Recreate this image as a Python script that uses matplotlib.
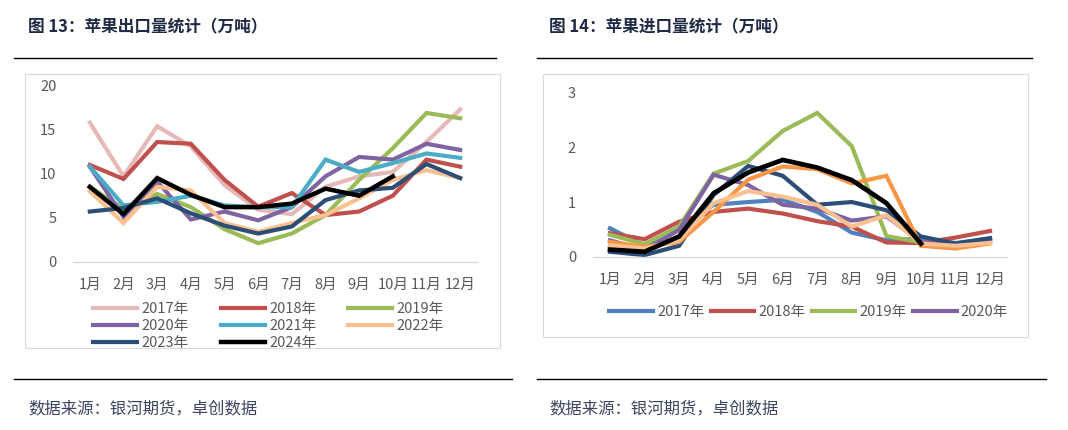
import matplotlib
matplotlib.use("Agg")
import matplotlib.pyplot as plt
from matplotlib.lines import Line2D

plt.rcParams['font.family'] = ['Noto Sans CJK SC', 'DejaVu Sans']

months = ['1月', '2月', '3月', '4月', '5月', '6月', '7月', '8月', '9月', '10月', '11月', '12月']

# 图13 出口量 (万吨)
export_2017 = [15.8, 9.7, 15.4, 13.1, 8.7, 5.9, 5.4, 8.5, 9.7, 10.2, 13.6, 17.3]
export_2018 = [11.0, 9.4, 13.6, 13.4, 9.3, 6.25, 7.8, 5.3, 5.7, 7.5, 11.6, 10.8]
export_2019 = [8.5, 6.0, 7.7, 6.2, 3.7, 2.1, 3.2, 5.3, 9.3, 12.9, 16.9, 16.3]
export_2020 = [10.8, 5.1, 9.1, 4.8, 5.7, 4.7, 6.2, 9.7, 11.9, 11.6, 13.4, 12.7]
export_2021 = [10.8, 6.4, 6.8, 7.5, 6.4, 6.2, 6.2, 11.6, 10.2, 11.2, 12.3, 11.8]
export_2022 = [8.0, 4.4, 8.5, 8.1, 4.4, 3.4, 4.4, 5.3, 7.2, 9.3, 10.4, 9.5]
export_2023 = [5.7, 6.1, 7.2, 5.5, 4.1, 3.2, 4.0, 7.0, 8.1, 8.4, 11.1, 9.5]
export_2024 = [8.5, 5.4, 9.5, 7.6, 6.2, 6.2, 6.6, 8.3, 7.5, 9.7]

# 图14 进口量 (万吨)
import_2017 = [0.52, 0.2, 0.5, 0.95, 1.0, 1.04, 0.82, 0.44, 0.3, 0.33, 0.25, 0.33]
import_2018 = [0.43, 0.32, 0.64, 0.82, 0.88, 0.79, 0.65, 0.55, 0.26, 0.25, 0.35, 0.47]
import_2019 = [0.4, 0.23, 0.55, 1.52, 1.75, 2.3, 2.63, 2.02, 0.38, 0.26, 0.22, 0.28]
import_2020 = [0.3, 0.12, 0.49, 1.5, 1.31, 0.95, 0.88, 0.66, 0.74, 0.27, 0.21, 0.3]
import_2021 = [0.09, 0.03, 0.2, 1.13, 1.66, 1.48, 0.95, 1.0, 0.85, 0.37, 0.24, 0.34]
import_2022 = [0.27, 0.18, 0.27, 0.82, 1.41, 1.65, 1.6, 1.34, 1.48, 0.2, 0.15, 0.24]
import_2023 = [0.21, 0.15, 0.3, 0.98, 1.2, 1.1, 0.95, 0.55, 0.76, 0.24, 0.2, 0.25]
import_2024 = [0.13, 0.09, 0.37, 1.16, 1.54, 1.77, 1.63, 1.4, 0.98, 0.24]

export_series = [
    ('2017年', export_2017, '#E6B9B8'),
    ('2018年', export_2018, '#C0504D'),
    ('2019年', export_2019, '#9BBB59'),
    ('2020年', export_2020, '#8064A2'),
    ('2021年', export_2021, '#4BACC6'),
    ('2022年', export_2022, '#FAC090'),
    ('2023年', export_2023, '#2C4D75'),
    ('2024年', export_2024, '#000000'),
]
import_series = [
    ('2017年', import_2017, '#4F81BD'),
    ('2018年', import_2018, '#C0504D'),
    ('2019年', import_2019, '#9BBB59'),
    ('2020年', import_2020, '#8064A2'),
    ('2021年', import_2021, '#2C4D75'),
    ('2022年', import_2022, '#F79646'),
    ('2023年', import_2023, '#FAC090'),
    ('2024年', import_2024, '#000000'),
]

fig = plt.figure(figsize=(10.68, 4.30), dpi=100)
W, H = 1068.0, 430.0

def fx(px):
    return px / W

def fy(py):
    return 1 - py / H

title_color = '#1F2A44'
src_color = '#3A4660'

# titles, rules and sources
fig.text(fx(28), fy(27), '图 13：苹果出口量统计（万吨）', fontsize=12, fontweight='bold',
         color=title_color, va='center', ha='left')
fig.text(fx(549), fy(27), '图 14：苹果进口量统计（万吨）', fontsize=12, fontweight='bold',
         color=title_color, va='center', ha='left')
for x0, x1 in [(14, 496), (537, 1032)]:
    fig.add_artist(Line2D([fx(x0), fx(x1)], [fy(58), fy(58)], color='black', lw=1.0))
for x0, x1 in [(14, 512), (537, 1046)]:
    fig.add_artist(Line2D([fx(x0), fx(x1)], [fy(379), fy(379)], color='black', lw=1.0))
fig.text(fx(28), fy(409), '数据来源：银河期货，卓创数据', fontsize=11.8, color=src_color,
         va='center', ha='left')
fig.text(fx(549), fy(409), '数据来源：银河期货，卓创数据', fontsize=11.8, color=src_color,
         va='center', ha='left')

# chart frames
for x0, y0, x1, y1 in [(25, 74, 500, 348), (543, 74, 1028, 337)]:
    rect = plt.Rectangle((fx(x0), fy(y1)), fx(x1) - fx(x0), fy(y0) - fy(y1),
                         transform=fig.transFigure, fill=False, edgecolor='#D9D9D9', lw=0.8)
    fig.add_artist(rect)

def style_axes(ax, ymax, yticks):
    ax.set_xlim(0.5, 12.5)
    ax.set_ylim(0, ymax)
    ax.set_xticks(range(1, 13))
    ax.set_xticklabels(months)
    ax.set_yticks(yticks)
    for s in ['top', 'right', 'left']:
        ax.spines[s].set_visible(False)
    ax.spines['bottom'].set_color('#D9D9D9')
    ax.spines['bottom'].set_linewidth(1.0)
    ax.tick_params(length=0, colors='#595959', labelsize=10.5)
    ax.tick_params(axis='x', pad=12)
    ax.tick_params(axis='y', pad=12)
    ax.patch.set_alpha(0)

# left: export
ax1 = fig.add_axes([fx(73), fy(261.7), fx(477) - fx(73), fy(85.7) - fy(261.7)])
lines1 = []
for name, vals, col in export_series:
    lw = 3.2 if col == '#000000' else 3.0
    ln, = ax1.plot(range(1, len(vals) + 1), vals, color=col, lw=lw, label=name,
                   solid_joinstyle='miter')
    lines1.append(ln)
style_axes(ax1, 20, [0, 5, 10, 15, 20])
# legend fills row by row in the reference
order = [0, 3, 6, 1, 4, 7, 2, 5]
ax1.legend(handles=[lines1[i] for i in order], loc='upper left',
           bbox_to_anchor=(fx(86), fy(295)), bbox_transform=fig.transFigure,
           ncol=3, frameon=False, fontsize=10.5, handlelength=3.0, handletextpad=0.3,
           columnspacing=2.2, labelspacing=0.2, labelcolor='#595959', borderpad=0)

# right: import
ax2 = fig.add_axes([fx(592.7), fy(256.7), fx(1007.3) - fx(592.7), fy(92.7) - fy(256.7)])
handles = []
for name, vals, col in import_series:
    lw = 3.4 if col == '#000000' else 3.0
    ln, = ax2.plot(range(1, len(vals) + 1), vals, color=col, lw=lw, label=name,
                   solid_joinstyle='miter')
    handles.append(ln)
style_axes(ax2, 3, [0, 1, 2, 3])
ax2.legend(handles=handles[:4], loc='upper left', bbox_to_anchor=(fx(602), fy(298)),
           bbox_transform=fig.transFigure, ncol=4, frameon=False, fontsize=10.5,
           handlelength=3.0, handletextpad=0.3, columnspacing=0.4, labelcolor='#595959',
           borderpad=0)

fig.savefig('out.png', dpi=100)
